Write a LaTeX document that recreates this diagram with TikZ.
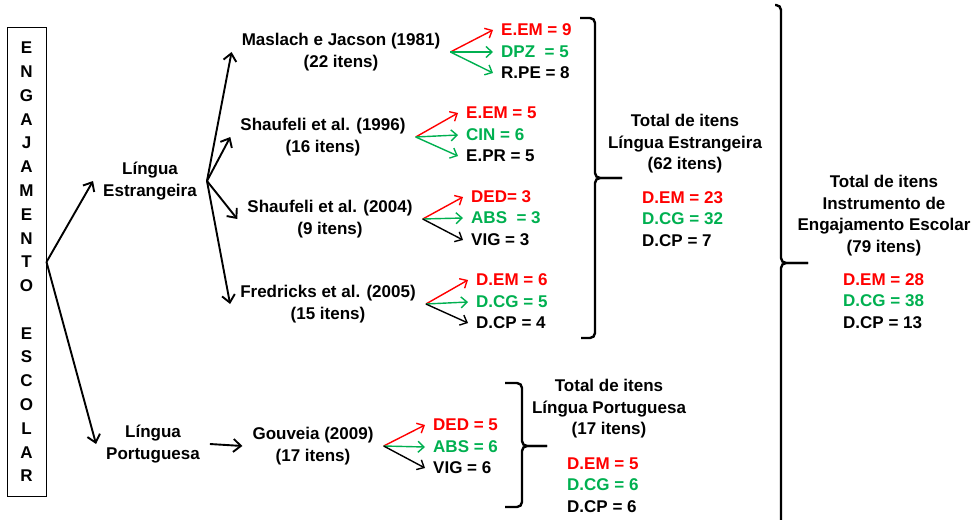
\documentclass[tikz,border=0pt]{standalone}
\usepackage{fontspec}
\setmainfont{Liberation Sans}
\usetikzlibrary{arrows.meta}
\definecolor{dimred}{HTML}{FF0000}
\definecolor{dimgreen}{HTML}{00B050}
\begin{document}
\begin{tikzpicture}[x=1pt,y=-1pt,
  every node/.style={font=\bfseries\fontsize{17}{21.5}\selectfont, inner ysep=0pt},
  src/.style={align=center, inner xsep=10pt},
  val/.style={anchor=west, inner xsep=8pt},
  block/.style={anchor=west, align=left, inner xsep=0pt},
  mainarrow/.style={line width=1.9pt, -{Straight Barb[length=7.5pt,width=13pt]}},
  subarrow/.style={line width=1.4pt, -{Straight Barb[length=6pt,width=11pt]}},
  brace/.style={line width=2.4pt, rounded corners=5pt},
]
\useasboundingbox (0,0) rectangle (976,519);

% vertical title box
\node[draw, line width=1pt, minimum width=39, minimum height=469, align=center,
      inner sep=0pt, font=\bfseries\fontsize{17}{23.78}\selectfont]
  (box) at (26.5,262) {E\\N\\G\\A\\J\\A\\M\\E\\N\\T\\O\\\mbox{}\\E\\S\\C\\O\\L\\A\\R};

% language groups
\node[src] (le) at (150,181) {Língua\\Estrangeira};
\node[src] (lp) at (153,444) {Língua\\Portuguesa};
\draw[mainarrow] (box.east) -- (le.west);
\draw[mainarrow] (box.east) -- (lp.west);

% instruments
\node[src] (ma) at (341,52)  {Maslach e Jacson (1981)\\(22 itens)};
\node[src] (s96) at (323,137) {Shaufeli et al. (1996)\\(16 itens)};
\node[src] (s04) at (330,219) {Shaufeli et al. (2004)\\(9 itens)};
\node[src] (fr) at (328,304) {Fredricks et al. (2005)\\(15 itens)};
\node[src] (go) at (313,446) {Gouveia (2009)\\(17 itens)};
\foreach \t in {ma,s96,s04,fr} \draw[mainarrow] (le.east) -- (\t.west);
\draw[mainarrow] (lp.east) -- (go.west);

% dimensions per instrument
\node[val, text=dimred]   (ma1) at (493,30) {E.EM = 9};
\node[val, text=dimgreen] (ma2) at (493,52) {DPZ\ \ = 5};
\node[val]                (ma3) at (493,73) {R.PE = 8};
\draw[subarrow, dimred]   (ma.east) -- (ma1.west);
\draw[subarrow, dimgreen] (ma.east) -- (ma2.west);
\draw[subarrow, dimgreen] (ma.east) -- (ma3.west);

\node[val, text=dimred]   (sa1) at (458,113) {E.EM = 5};
\node[val, text=dimgreen] (sa2) at (458,135) {CIN = 6};
\node[val]                (sa3) at (458,156) {E.PR = 5};
\draw[subarrow, dimred]   (s96.east) -- (sa1.west);
\draw[subarrow, dimgreen] (s96.east) -- (sa2.west);
\draw[subarrow, dimgreen] (s96.east) -- (sa3.west);

\node[val, text=dimred]   (sb1) at (463,197) {DED= 3};
\node[val, text=dimgreen] (sb2) at (463,218) {ABS\ \ = 3};
\node[val]                (sb3) at (463,240) {VIG = 3};
\draw[subarrow, dimred]   (s04.east) -- (sb1.west);
\draw[subarrow, dimgreen] (s04.east) -- (sb2.west);
\draw[subarrow]           (s04.east) -- (sb3.west);

\node[val, text=dimred]   (fr1) at (468,280) {D.EM = 6};
\node[val, text=dimgreen] (fr2) at (468,302) {D.CG = 5};
\node[val]                (fr3) at (468,323) {D.CP = 4};
\draw[subarrow, dimred]   (fr.east) -- (fr1.west);
\draw[subarrow, dimgreen] (fr.east) -- (fr2.west);
\draw[subarrow]           (fr.east) -- (fr3.west);

\node[val, text=dimred]   (go1) at (425,425) {DED = 5};
\node[val, text=dimgreen] (go2) at (425,447) {ABS = 6};
\node[val]                (go3) at (425,468) {VIG = 6};
\draw[subarrow, dimred]   (go.east) -- (go1.west);
\draw[subarrow, dimgreen] (go.east) -- (go2.west);
\draw[subarrow]           (go.east) -- (go3.west);

% brace: foreign-language total
\draw[brace] (580,18) -| (595,178) -- (622,178);
\draw[brace] (622,178) -| (595,338) -- (581,338);
\node[align=center] (tle) at (685,144) {Total de itens\\Língua Estrangeira\\(62 itens)};
\node[block] (vle) at (642,219) {\textcolor{dimred}{D.EM = 23}\\\textcolor{dimgreen}{D.CG = 32}\\D.CP = 7};

% brace: Portuguese total
\draw[brace] (505,383) -| (522,446) -- (547,446);
\draw[brace] (547,446) -| (522,507) -- (505,507);
\node[align=center] (tlp) at (609,409) {Total de itens\\Língua Portuguesa\\(17 itens)};
\node[block] (vlp) at (567,485) {\textcolor{dimred}{D.EM = 5}\\\textcolor{dimgreen}{D.CG = 6}\\D.CP = 6};

% brace: overall total
\draw[brace] (775,5) -| (781,263) -- (808,263);
\draw[brace] (808,263) -| (781,525);
\node[align=center] (ttot) at (884,215.5) {Total de itens\\Instrumento de\\Engajamento Escolar\\(79 itens)};
\node[block] (vtot) at (843,301) {\textcolor{dimred}{D.EM = 28}\\\textcolor{dimgreen}{D.CG = 38}\\D.CP = 13};
\end{tikzpicture}
\end{document}
